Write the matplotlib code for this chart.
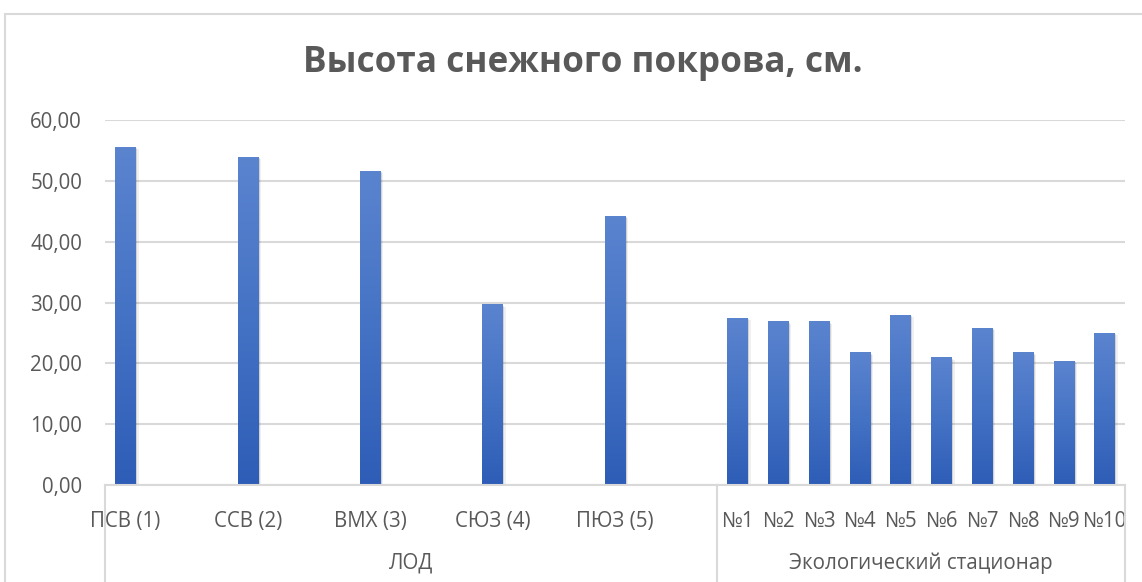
import matplotlib
matplotlib.use("Agg")
import matplotlib.pyplot as plt
import numpy as np
from matplotlib.colors import LinearSegmentedColormap
from matplotlib.patches import Rectangle
import matplotlib.transforms as mtransforms

# ---- data ----
lod_labels = ["ПСВ (1)", "ССВ (2)", "ВМХ (3)", "СЮЗ (4)", "ПЮЗ (5)"]
lod_values = [55.5, 53.9, 51.6, 29.6, 44.2]
eco_labels = ["№1", "№2", "№3", "№4", "№5", "№6", "№7", "№8", "№9", "№10"]
eco_values = [27.4, 26.8, 26.8, 21.7, 27.9, 20.9, 25.8, 21.7, 20.3, 24.9]
groups = ["ЛОД", "Экологический стационар"]
yticks = [0, 10, 20, 30, 40, 50, 60]
title = "Высота снежного покрова, см."

plt.rcParams['font.family'] = ['Open Sans', 'DejaVu Sans']
GRAY = "#595959"
GRID = "#d9d9d9"
FS = 14.8

W, H = 1142, 582
fig = plt.figure(figsize=(W / 100, H / 100), dpi=100)

# chart border (top and left visible)
fig.patches.append(Rectangle((5 / W, -0.1), 1.2, (H - 14) / H + 0.1, transform=fig.transFigure,
                             fill=False, edgecolor=GRID, lw=1.5))

left, right, top, bottom = 105, 1125, 120, 485
ax = fig.add_axes([left / W, (H - bottom) / H, (right - left) / W, (bottom - top) / H])

# slot layout: each LOD category takes 3 slots, each eco category takes 1
n_lod = len(lod_labels)
n_eco = len(eco_labels)
lod_pos = [3 * i + 0.5 for i in range(n_lod)]
eco_pos = [3 * n_lod + i + 0.5 for i in range(n_eco)]
positions = lod_pos + eco_pos
values = lod_values + eco_values
labels = lod_labels + eco_labels
total = 3 * n_lod + n_eco

ax.set_xlim(0, total)
ax.set_ylim(0, 60)

bars = ax.bar(positions, values, width=0.5, color="#4472c4", zorder=3)

cmap = LinearSegmentedColormap.from_list("g", ["#2e5db7", "#4472c4", "#5b84cf"])
grad = np.linspace(0, 1, 256).reshape(-1, 1)
px_per_x = (right - left) / total
for b in bars:
    x0, w, h = b.get_x(), b.get_width(), b.get_height()
    # soft shadow
    off = 1.5 / px_per_x
    ax.add_patch(Rectangle((x0 + off, 0), w, h - 0.15, color="#000000", alpha=0.12, zorder=2, lw=0))
    ax.add_patch(Rectangle((x0 + 2 * off, 0), w, h - 0.3, color="#000000", alpha=0.06, zorder=2, lw=0))
    ax.imshow(grad, cmap=cmap, extent=(x0, x0 + w, 0, h), origin="lower",
              aspect="auto", zorder=4, interpolation="bilinear")
    b.set_visible(False)

ax.set_xlim(0, total)
ax.set_ylim(0, 60)

# grid
ax.set_yticks(yticks)
ax.set_yticklabels([f"{v:.2f}".replace(".", ",") for v in yticks])
ax.yaxis.grid(True, color=GRID, lw=1.5, zorder=0)
ax.set_axisbelow(True)
for s in ["top", "right", "left"]:
    ax.spines[s].set_visible(False)
ax.spines["bottom"].set_color(GRID)
ax.spines["bottom"].set_linewidth(1.5)
ax.spines["bottom"].set_zorder(5)

ax.tick_params(axis="y", length=0, pad=16.5, labelsize=FS, labelcolor=GRAY)
ax.set_xticks(positions)
ax.set_xticklabels(labels)
ax.tick_params(axis="x", length=0, pad=18.5, labelsize=FS, labelcolor=GRAY)

# group separators and labels
trans = mtransforms.blended_transform_factory(ax.transData, ax.transAxes)
for xsep in [0, 3 * n_lod, total]:
    ax.plot([xsep, xsep], [0, -0.35], transform=trans, color=GRID, lw=1.5, clip_on=False)
ax.text(3 * n_lod / 2, -0.215, groups[0], transform=trans, ha="center", va="center",
        fontsize=FS, color=GRAY)
ax.text(3 * n_lod + n_eco / 2, -0.215, groups[1], transform=trans, ha="center", va="center",
        fontsize=FS, color=GRAY)

fig.text(583 / W, 1 - 63 / H, title, ha="center", va="center",
         fontsize=25.3, fontweight="bold", color=GRAY)

fig.savefig("out.png", dpi=100, facecolor="white")
